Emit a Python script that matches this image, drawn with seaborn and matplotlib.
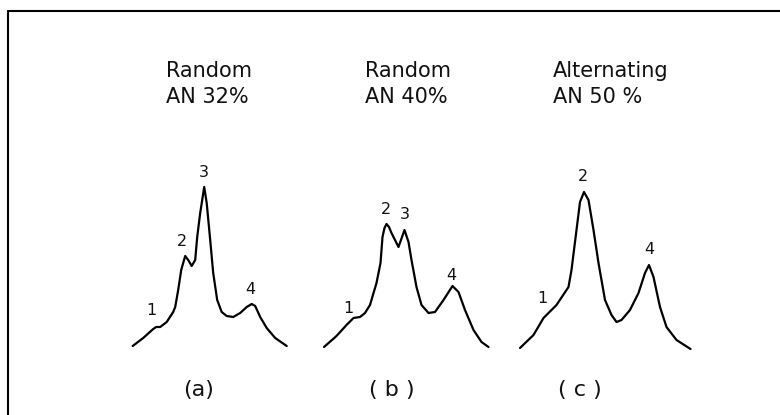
import matplotlib
matplotlib.use("Agg")
import matplotlib.pyplot as plt
from matplotlib.lines import Line2D
import seaborn as sns
import pandas as pd

sns.set_theme(style="white")
plt.rcParams["font.family"] = ["DejaVu Sans"]

# ---- data (shift in arbitrary units, intensity in arbitrary units) ----
titles_line1 = ["Random", "Random", "Alternating"]
titles_line2 = ["AN 32%", "AN 40%", "AN 50 %"]
panel_labels = ["(a)", "( b )", "( c )"]

shift_a = [0, 10.5, 20.5, 23.5, 27.5, 34, 40.5, 42.5, 45.5, 48.5, 52.5, 55.5, 59, 62.5,
           64.5, 67.5, 71.5, 74, 77.5, 80.5, 84.5, 89, 94, 100.5, 107.5, 114, 119,
           122.5, 127.5, 134, 142.5, 154]
inten_a = [2, 10, 19, 21, 21, 26, 36, 41, 58, 78, 92, 88, 82, 88,
           111, 135, 161, 145, 108, 75, 48, 36, 32, 31, 35, 41, 44,
           42, 31, 20, 10, 2]

shift_b = [0, 12.5, 22.5, 29.5, 36, 41, 46, 52.5, 56.5, 58.5, 60.5, 62.5, 65, 67.5,
           74.5, 80.5, 84.5, 87.5, 92.5, 97.5, 104.5, 111, 119.5, 128.5, 134.5,
           141, 149.5, 157.5, 164.5]
inten_b = [1, 12, 23, 30, 31, 35, 43, 65, 85, 111, 120, 124, 121, 115,
           101, 118, 106, 88, 61, 43, 35, 36, 48, 62, 56,
           38, 18, 6, 1]

shift_c = [0, 13.5, 23.5, 28.5, 36.5, 48.5, 51.5, 56.5, 60, 64, 68.5, 73.5, 78.5, 85,
           91.5, 96.5, 101.5, 110, 118.5, 125, 129, 133.5, 140, 146.5, 156.5, 170.5]
inten_c = [0, 13, 30, 35, 43, 61, 78, 118, 146, 156, 148, 118, 85, 48,
           33, 26, 28, 38, 55, 75, 83, 71, 41, 21, 8, -1]

# peak labels: (text, shift, intensity)
peaks_a = [("1", 18.5, 38), ("2", 49, 107), ("3", 71.5, 176), ("4", 118, 59)]
peaks_b = [("1", 24.5, 40), ("2", 62, 139), ("3", 81, 134), ("4", 127.5, 73)]
peaks_c = [("1", 22.5, 50), ("2", 62.5, 172), ("4", 129, 99)]

spectra = [(shift_a, inten_a, peaks_a), (shift_b, inten_b, peaks_b),
           (shift_c, inten_c, peaks_c)]

# ---- layout (pixels) ----
W, H = 780, 415
fig = plt.figure(figsize=(W / 100, H / 100), dpi=100)
fig.patch.set_facecolor("white")

ax_left_px = [122.7, 314, 510]
ax_w_px, ax_top_px, ax_bot_px = 190, 150, 360
title_x_px = [166, 365, 553]
label_x_px = [199, 392, 580]

for i, (sx, iy, peaks) in enumerate(spectra):
    ax = fig.add_axes([ax_left_px[i] / W, (H - ax_bot_px) / H,
                       ax_w_px / W, (ax_bot_px - ax_top_px) / H])
    df = pd.DataFrame({"shift": sx, "intensity": iy})
    sns.lineplot(data=df, x="shift", y="intensity", ax=ax, sort=False,
                 color="black", lw=1.6, estimator=None)
    ax.set_xlim(-10, 180)
    ax.set_ylim(-12, 198)
    ax.set_axis_off()
    for txt, px, py in peaks:
        ax.text(px, py, txt, ha="center", va="center", fontsize=11.5,
                color="#111111")

    fig.text(title_x_px[i] / W, (H - 77) / H, titles_line1[i], ha="left",
             va="baseline", fontsize=15, color="#111111")
    fig.text(title_x_px[i] / W, (H - 103) / H, titles_line2[i], ha="left",
             va="baseline", fontsize=15, color="#111111")
    fig.text(label_x_px[i] / W, (H - 390) / H, panel_labels[i], ha="center",
             va="center", fontsize=16, color="#111111")

# frame (top and left rules)
fig.add_artist(Line2D([8 / W, 8 / W], [(H - 11) / H, 0], color="black", lw=1.5,
                      transform=fig.transFigure))
fig.add_artist(Line2D([8 / W, 1], [(H - 11) / H, (H - 11) / H], color="black",
                      lw=1.5, transform=fig.transFigure))

fig.savefig("out.png", dpi=100, facecolor="white")
